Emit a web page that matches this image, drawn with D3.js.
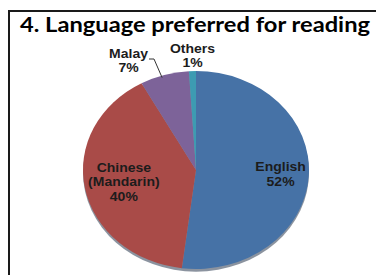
<!DOCTYPE html>
<html>
<head>
<meta charset="utf-8">
<title>Language preferred for reading</title>
<script src="https://d3js.org/d3.v7.min.js"></script>
<style>
  body { margin: 0; background: #fff; }
  svg { display: block; }
</style>
</head>
<body>
<script>
  var categories = ['English', 'Chinese (Mandarin)', 'Malay', 'Others'];
  var values = [52, 40, 7, 1];
  var labelLines = [['English', '52%'], ['Chinese', '(Mandarin)', '40%'], ['Malay', '7%'], ['Others', '1%']];
  var colors = ['#4672a6', '#a94b48', '#7d6399', '#3d9bb2'];

  var W = 376, H = 275;
  var cx = 196, cy = 170, rx = 113, ry = 99;

  var svg = d3.select('body').append('svg')
    .attr('width', W)
    .attr('height', H);

  // frame (right and bottom are cut off in the original)
  svg.append('path')
    .attr('d', 'M9,' + (H + 5) + ' V11 H' + (W + 5))
    .attr('fill', 'none')
    .attr('stroke', '#1a1a1a')
    .attr('stroke-width', 2);

  svg.append('text')
    .attr('x', 20)
    .attr('y', 32)
    .attr('textLength', 350)
    .attr('lengthAdjust', 'spacingAndGlyphs')
    .style('font-family', 'Lato, "Open Sans", sans-serif')
    .style('font-weight', 'bold')
    .style('font-size', '21px')
    .attr('fill', '#000')
    .text('4. Language preferred for reading');

  var data = categories.map(function(c, i) { return { name: c, value: values[i], i: i }; });

  var pie = d3.pie()
    .sort(null)
    .value(function(d) { return d.value; });

  var slices = pie(data);

  var arc = d3.arc()
    .innerRadius(0)
    .outerRadius(rx);

  var g = svg.append('g')
    .attr('transform', 'translate(' + cx + ',' + cy + ') scale(1,' + (ry / rx) + ')');

  // slight depth / shadow under the pie
  g.append('ellipse')
    .attr('cx', 0)
    .attr('cy', 3)
    .attr('rx', rx)
    .attr('ry', rx)
    .attr('fill', '#2b3a50')
    .attr('opacity', 0.55);

  g.selectAll('path.slice')
    .data(slices)
    .enter()
      .append('path')
        .attr('class', 'slice')
        .attr('d', arc)
        .attr('fill', function(d) { return colors[d.data.i]; });

  // labels (the original is stretched a bit horizontally)
  var inside = { 0: 0.75, 1: 0.65 };
  var outsidePos = { 2: [128.5, 58], 3: [192.5, 53] };
  var lineH = 14.5;

  var labels = svg.append('g')
    .style('font-family', '"Liberation Sans", Arial, sans-serif')
    .style('font-weight', 'bold')
    .style('font-size', '12.5px')
    .attr('fill', '#1c1c1c');

  slices.forEach(function(s) {
    var i = s.data.i;
    var lines = labelLines[i];
    var x, y0;
    if (inside[i] !== undefined) {
      var a = (s.startAngle + s.endAngle) / 2;
      var f = inside[i];
      x = cx + f * rx * Math.sin(a);
      var ym = cy - f * ry * Math.cos(a);
      y0 = ym - (lines.length - 1) * lineH / 2 + 4;
    } else {
      x = outsidePos[i][0];
      y0 = outsidePos[i][1];
    }
    var t = labels.append('text')
      .attr('text-anchor', 'middle')
      .attr('transform', 'translate(' + x + ',0) scale(1.12,1)');
    lines.forEach(function(l, k) {
      t.append('tspan')
        .attr('x', 0)
        .attr('y', y0 + k * lineH)
        .text(l);
    });
  });

  // leader line for Malay
  var ms = slices[2];
  var ma = ms.startAngle + (ms.endAngle - ms.startAngle) * 0.45;
  var ex = cx + rx * Math.sin(ma), ey = cy - ry * Math.cos(ma);
  svg.append('path')
    .attr('d', 'M149,59 H154 L' + ex.toFixed(1) + ',' + (ey + 2).toFixed(1))
    .attr('fill', 'none')
    .attr('stroke', '#333')
    .attr('stroke-width', 1);
</script>
</body>
</html>
